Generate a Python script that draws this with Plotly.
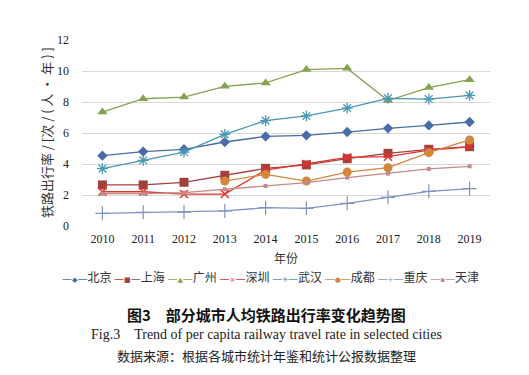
import plotly.graph_objects as go

years = ["2010", "2011", "2012", "2013", "2014", "2015", "2016", "2017", "2018", "2019"]
beijing = [4.54, 4.80, 4.95, 5.42, 5.78, 5.85, 6.06, 6.30, 6.49, 6.71]
shanghai = [2.65, 2.65, 2.82, 3.27, 3.72, 3.94, 4.34, 4.69, 4.95, 5.12]
guangzhou = [7.35, 8.21, 8.32, 9.01, 9.23, 10.09, 10.17, 8.09, 8.93, 9.44]
shenzhen = [2.21, 2.21, 2.06, 2.06, 3.61, 4.00, 4.43, 4.47, 4.90, 5.10]
wuhan = [3.70, 4.24, 4.77, 5.91, 6.80, 7.10, 7.61, 8.24, 8.19, 8.43]
chengdu = [None, None, None, 2.90, 3.33, 2.90, 3.48, 3.76, 4.73, 5.55]
chongqing = [0.82, 0.88, 0.90, 0.97, 1.18, 1.14, 1.46, 1.85, 2.24, 2.41]
tianjin = [2.09, 2.09, 2.15, 2.37, 2.58, 2.80, 3.12, 3.38, 3.68, 3.85]
y_ticks = [0, 2, 4, 6, 8, 10, 12]

series = [
    ("北京", beijing, "#4a6ca6", "diamond", 8, 0, "◆"),
    ("上海", shanghai, "#a3403c", "square", 9, 0, "■"),
    ("广州", guangzhou, "#86a34f", "triangle-up", 9, 0, "▲"),
    ("深圳", shenzhen, "#e0342f", "x-thin", 8, 1.5, "×"),
    ("武汉", wuhan, "#4a97b3", "asterisk", 9, 1.3, "✳"),
    ("成都", chengdu, "#d3873c", "circle", 9, 0, "●"),
    ("重庆", chongqing, "#8093c4", "cross-thin", 10, 1.2, "+"),
    ("天津", tianjin, "#c4898a", "square", 4, 0, "▪"),
]

fig = go.Figure()
for name, vals, color, sym, size, lw, glyph in series:
    fig.add_trace(go.Scatter(
        x=years, y=vals, name=name, mode="lines+markers",
        line=dict(color=color, width=1.3),
        marker=dict(symbol=sym, size=size, color=color,
                    line=dict(color=color, width=lw)),
        connectgaps=False, showlegend=False,
    ))

serif = "Liberation Serif, Times New Roman, serif"
cjk = "Noto Sans CJK SC"

fig.update_layout(
    width=529, height=375,
    margin=dict(l=82, r=39, t=40, b=149, autoexpand=False),
    paper_bgcolor="white", plot_bgcolor="white",
    showlegend=False,
    xaxis=dict(type="category", range=[-0.5, 9.5], showgrid=False, showline=False,
               ticks="", automargin=False, ticklabelstandoff=4,
               tickfont=dict(family=serif, size=12, color="#222")),
    yaxis=dict(range=[0, 12], tickvals=y_ticks, showgrid=True, gridcolor="#d9d9d9",
               gridwidth=1, zeroline=False, showline=False, automargin=False,
               ticklabelstandoff=12,
               tickfont=dict(family=serif, size=12, color="#222")),
)

# axis titles
fig.add_annotation(text="铁路出行率 / [次 / ( 人 · 年 ) ]", xref="paper", yref="paper",
                   x=-0.088, y=0.5, textangle=-90, xanchor="center", yanchor="middle",
                   showarrow=False, font=dict(family=cjk, size=13, color="#333"))
fig.add_annotation(text="年份", xref="paper", yref="paper", x=0.5, y=-0.172,
                   xanchor="center", yanchor="middle", showarrow=False,
                   font=dict(family=cjk, size=12, color="#333"))

# legend row as coloured text keys
parts = []
for name, vals, color, sym, size, lw, glyph in series:
    parts.append(
        f"<span style='color:{color};font-family:DejaVu Sans;font-size:10px'>—</span>"
        f"<span style='color:{color};font-family:DejaVu Sans;font-size:7px'>{glyph}</span>"
        f"<span style='color:{color};font-family:DejaVu Sans;font-size:10px'>—</span>"
        f"<span style='color:#333'>{name}</span>"
    )
legend_text = " ".join(parts)
fig.add_annotation(text=legend_text, xref="paper", yref="paper", x=0.461, y=-0.27,
                   xanchor="center", yanchor="middle", showarrow=False,
                   font=dict(family=cjk, size=12, color="#333"))

annots = [
    ("<b>图3　部分城市人均铁路出行率变化趋势图</b>", cjk, 15, -0.478, "#111"),
    ("Fig.3　Trend of per capita railway travel rate in selected cities", serif, 14, -0.586, "#222"),
    ("数据来源：根据各城市统计年鉴和统计公报数据整理", cjk, 13, -0.694, "#222"),
]
for text, fam, sz, yy, col in annots:
    fig.add_annotation(text=text, xref="paper", yref="paper", x=0.451, y=yy,
                       xanchor="center", yanchor="middle", showarrow=False,
                       font=dict(family=fam, size=sz, color=col))

fig.write_html("out.html", config={"displayModeBar": False},
               post_script="document.body.style.margin='0';")
